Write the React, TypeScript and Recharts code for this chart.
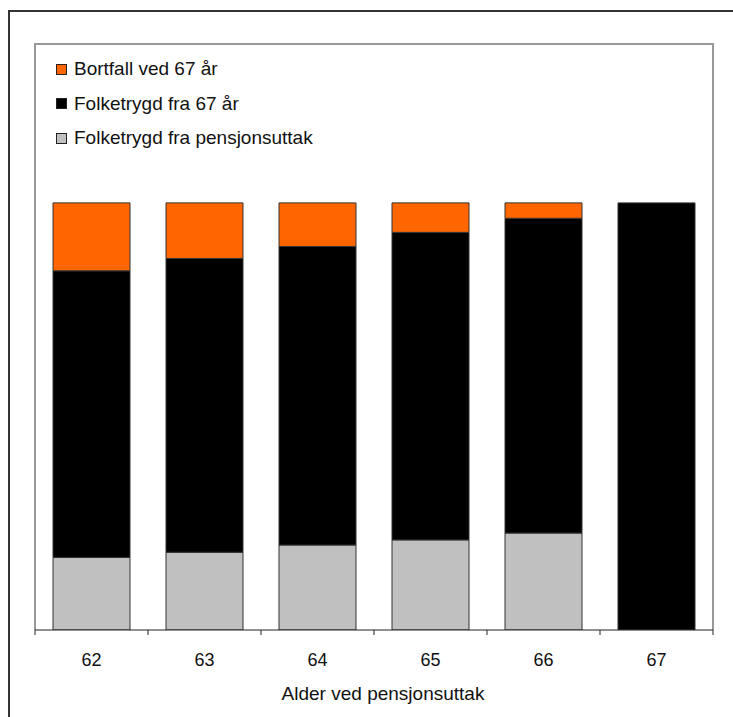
import { BarChart, Bar, XAxis, YAxis, Legend } from 'recharts';

// Andel av folketrygden (prosent av full ytelse ved 67 år)
const ages = ['62', '63', '64', '65', '66', '67'];
const fraPensjonsuttak = [17.0, 18.2, 19.9, 21.1, 22.7, 0];
const fra67 = [67.1, 68.8, 69.9, 72.0, 73.7, 100];
const bortfall = [15.9, 13.0, 10.2, 6.9, 3.6, 0];

const series = [
  { key: 'pensjonsuttak', name: 'Folketrygd fra pensjonsuttak', color: '#C0C0C0' },
  { key: 'fra67', name: 'Folketrygd fra 67 år', color: '#000000' },
  { key: 'bortfall', name: 'Bortfall ved 67 år', color: '#FF6600' },
];

const data = ages.map((age, i) => ({
  age,
  pensjonsuttak: fraPensjonsuttak[i],
  fra67: fra67[i],
  bortfall: bortfall[i],
}));

const font = '"Liberation Sans", Arial, sans-serif';
const TICK_GAP = 23;

// etikett + skillestrek mellom kategoriene (Excel-stil)
function AgeTick(props: any) {
  const { x, y, payload, index, visibleTicksCount } = props;
  const half = payload.offset ?? 0;
  const axisY = y - TICK_GAP;
  return (
    <g>
      <line x1={x - half} x2={x - half} y1={axisY} y2={axisY + 5} stroke="#222" />
      {index === visibleTicksCount - 1 && (
        <line x1={x + half} x2={x + half} y1={axisY} y2={axisY + 5} stroke="#222" />
      )}
      <text x={x} y={y} dy="0.71em" textAnchor="middle" fill="#111" fontSize={18} fontFamily={font}>
        {payload.value}
      </text>
    </g>
  );
}

function LegendBox() {
  // øverste serie først, som i originalen
  const items = [...series].reverse();
  return (
    <div style={{ fontFamily: font, fontSize: 19, color: '#111' }}>
      {items.map((s) => (
        <div key={s.key} style={{ height: 34.5, display: 'flex', alignItems: 'center' }}>
          <span
            style={{
              display: 'inline-block',
              width: 11,
              height: 11,
              boxSizing: 'border-box',
              border: '1px solid #222',
              background: s.color,
              marginLeft: 8,
              marginRight: 7,
            }}
          />
          <span style={{ whiteSpace: 'nowrap' }}>{s.name}</span>
        </div>
      ))}
    </div>
  );
}

export default function App() {
  return (
    <div style={{ padding: '8px 0 0 8px', width: 725, height: 709 }}>
      <style>{'html,body{margin:0;padding:0;overflow:hidden}'}</style>
      <div style={{ position: 'relative', width: 725, height: 709, overflow: 'hidden', background: '#fff' }}>
        {/* ytre ramme: bare topp og venstre er synlig */}
        <div style={{ position: 'absolute', left: 0, top: 2, width: 740, height: 2, background: '#333' }} />
        <div style={{ position: 'absolute', left: 0, top: 2, width: 2, height: 707, background: '#333' }} />
        {/* ramme rundt plottområdet */}
        <div
          style={{
            position: 'absolute',
            left: 26,
            top: 35,
            width: 680,
            height: 587,
            boxSizing: 'border-box',
            borderTop: '2px solid #999',
            borderLeft: '2px solid #999',
            borderRight: '2px solid #999',
          }}
        />
        <div style={{ position: 'absolute', left: 0, top: 0 }}>
          <BarChart
            width={725}
            height={709}
            data={data}
            margin={{ top: 36, right: 20, left: 27, bottom: 17 }}
          >
            <XAxis
              dataKey="age"
              height={70}
              axisLine={{ stroke: '#222' }}
              tickLine={false}
              tickSize={0}
              tickMargin={TICK_GAP}
              tick={<AgeTick />}
              label={{
                value: 'Alder ved pensjonsuttak',
                position: 'insideBottom',
                offset: 0,
                dx: 9,
                fill: '#111',
                fontSize: 19,
                fontFamily: font,
              }}
            />
            <YAxis hide type="number" domain={[0, 137.2]} allowDataOverflow />
            <Legend
              layout="horizontal"
              align="center"
              verticalAlign="middle"
              wrapperStyle={{ left: 40, top: 43.75, width: 400 }}
              content={() => <LegendBox />}
            />
            {series.map((s) => (
              <Bar
                key={s.key}
                dataKey={s.key}
                name={s.name}
                stackId="a"
                fill={s.color}
                stroke="#333"
                strokeWidth={1}
                barSize={77}
                isAnimationActive={false}
              />
            ))}
          </BarChart>
        </div>
      </div>
    </div>
  );
}
